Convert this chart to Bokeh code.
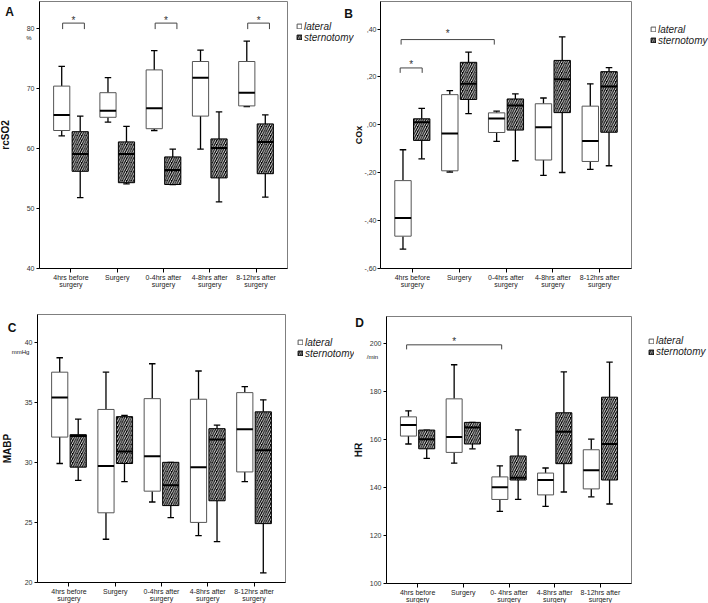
import numpy as np
from bokeh.plotting import figure
from bokeh.layouts import gridplot
from bokeh.models import Range1d, FixedTicker, Label, Legend, LegendItem
from bokeh.core.properties import value
from bokeh.embed import file_html
from bokeh.resources import INLINE

# ---------------- data ----------------
categories = ["4hrs before\nsurgery", "Surgery", "0-4hrs after\nsurgery",
              "4-8hrs after\nsurgery", "8-12hrs after\nsurgery"]
categories_D = ["4hrs before\nsurgery", "Surgery", "0- 4hrs after\nsurgery",
                "4-8hrs after\nsurgery", "8-12hrs after\nsurgery"]
groups = ["lateral", "sternotomy"]

# A: rcSO2 (%)
A_lat_hi = [73.7, 71.8, 76.3, 76.4, 77.9]
A_lat_q3 = [70.4, 69.3, 73.1, 74.5, 74.5]
A_lat_med = [65.6, 66.3, 66.7, 71.8, 69.3]
A_lat_q1 = [63.0, 65.2, 63.3, 65.4, 67.1]
A_lat_lo = [62.1, 64.4, 63.0, 59.9, 67.0]
A_st_hi = [65.4, 63.7, 59.9, 66.1, 65.6]
A_st_q3 = [62.8, 61.1, 58.6, 61.6, 64.1]
A_st_med = [59.1, 59.1, 56.4, 60.1, 61.1]
A_st_q1 = [56.2, 54.3, 54.0, 55.1, 55.8]
A_st_lo = [51.8, 54.1, 54.0, 51.1, 51.9]

# B: COx
B_lat_hi = [-0.104, 0.143, 0.057, 0.112, 0.171]
B_lat_q3 = [-0.233, 0.126, 0.050, 0.088, 0.078]
B_lat_med = [-0.389, -0.036, 0.026, -0.010, -0.068]
B_lat_q1 = [-0.465, -0.192, -0.032, -0.147, -0.153]
B_lat_lo = [-0.519, -0.197, -0.069, -0.211, -0.186]
B_st_hi = [0.069, 0.304, 0.129, 0.367, 0.239]
B_st_q3 = [0.025, 0.261, 0.108, 0.269, 0.222]
B_st_med = [0.011, 0.171, 0.081, 0.190, 0.160]
B_st_q1 = [-0.065, 0.106, -0.022, 0.051, -0.031]
B_st_lo = [-0.142, 0.047, -0.150, -0.199, -0.171]

# C: MABP (mmHg)
C_lat_hi = [38.7, 37.5, 38.2, 37.6, 36.3]
C_lat_q3 = [37.5, 34.4, 35.3, 35.25, 35.8]
C_lat_med = [35.4, 29.7, 30.5, 29.6, 32.75]
C_lat_q1 = [32.1, 25.8, 27.6, 25.0, 29.2]
C_lat_lo = [29.9, 23.6, 26.7, 23.9, 28.4]
C_st_hi = [33.6, 33.9, 30.0, 33.1, 35.2]
C_st_q3 = [32.3, 33.8, 30.0, 32.8, 34.2]
C_st_med = [32.2, 30.9, 28.1, 31.9, 31.0]
C_st_q1 = [29.6, 29.9, 26.4, 26.8, 24.9]
C_st_lo = [28.5, 28.4, 25.4, 23.4, 20.8]

# D: HR (/min)
D_lat_hi = [171.9, 191.1, 149.0, 148.1, 160.1]
D_lat_q3 = [169.4, 176.9, 144.4, 146.0, 155.7]
D_lat_med = [166.0, 161.0, 140.1, 143.1, 147.2]
D_lat_q1 = [161.4, 154.6, 135.0, 136.9, 139.4]
D_lat_lo = [158.1, 150.1, 130.0, 132.1, 136.1]
D_st_hi = [163.9, 167.1, 164.0, 188.1, 192.2]
D_st_q3 = [163.9, 167.1, 153.1, 171.1, 177.6]
D_st_med = [160.1, 165.0, 144.0, 163.2, 158.1]
D_st_q1 = [156.1, 158.1, 143.1, 149.9, 143.1]
D_st_lo = [152.1, 156.1, 135.0, 138.1, 133.1]

# y ticks
A_ticks = [40, 50, 60, 70, 80]
B_ticks = [-0.6, -0.4, -0.2, 0.0, 0.2, 0.4]
B_tick_labels = ["-,60", "-,40", "-,20", ",00", ",20", ",40"]
C_ticks = [20, 25, 30, 35, 40]
D_ticks = [100, 120, 140, 160, 180, 200]

# significance brackets: (cat from, offset, cat to, offset, y top, y leg, star baseline)
A_sig = [(0, -0.18, 0, 0.29, 80.9, 79.9, 81.4),
         (2, -0.18, 2, 0.29, 80.9, 79.9, 81.4),
         (4, -0.18, 4, 0.29, 80.9, 79.9, 81.4)]
B_sig = [(0, -0.24, 2, -0.25, 0.356, 0.335, 0.3805),
         (0, -0.26, 0, 0.21, 0.2375, 0.217, 0.25)]
C_sig = []
D_sig = [(0, -0.24, 2, -0.16, 199.4, 197.5, 200.65)]

FONT = "Liberation Sans"
X_IN = (0.32, 5.68)


def make_panel(ylabel, cats, ticks, tick_labels, yr_in, lat, st, sig,
               fig_box, frame_box, ylab_standoff, ylab_size, tick_standoff, legend_pos):
    fx0, fy0, fx1, fy1 = fig_box          # figure box in page px
    l, t, r, b = frame_box                # plot box in page px
    kx = (X_IN[1] - X_IN[0]) / (r - l)
    ky = (yr_in[1] - yr_in[0]) / (b - t)
    xs0 = X_IN[0] - (l - fx0) * kx
    xs1 = X_IN[1] + (fx1 - r) * kx
    ys0 = yr_in[0] - (fy1 - b) * ky
    ys1 = yr_in[1] + (t - fy0) * ky
    p = figure(width=fx1 - fx0, height=fy1 - fy0,
               x_range=Range1d(xs0, xs1), y_range=Range1d(ys0, ys1),
               output_backend="svg", toolbar_location=None,
               min_border=0, min_border_left=0, min_border_right=0,
               min_border_top=0, min_border_bottom=0)
    p.title.visible = False
    p.background_fill_color = "white"
    p.border_fill_color = "white"
    p.outline_line_color = None
    p.xgrid.visible = False
    p.ygrid.visible = False

    def dx(px):
        return xs0 + (px - fx0) * kx

    def dy(py):
        return ys1 - (py - fy0) * ky

    # plot box (top/right edges grey, left/bottom covered by the axes)
    p.quad(left=[X_IN[0]], right=[X_IN[1]], bottom=[yr_in[0]], top=[yr_in[1]],
           fill_color=None, line_color="#7f7f7f", line_width=1)

    xs = np.arange(1, len(cats) + 1)
    xa = p.xaxis[0]
    xa.fixed_location = yr_in[0]
    xa.bounds = X_IN
    xa.ticker = FixedTicker(ticks=list(xs))
    xa.major_label_overrides = {int(i): c for i, c in zip(xs, cats)}
    xa.minor_tick_line_color = None
    xa.major_tick_in = 0
    xa.major_tick_out = 4
    xa.major_label_standoff = 1
    xa.major_label_text_font = FONT
    xa.major_label_text_font_size = "7px"
    xa.major_label_text_color = "#222222"
    xa.major_label_text_line_height = 1.0
    xa.axis_line_color = "black"
    xa.major_tick_line_color = "black"

    ya = p.yaxis[0]
    ya.fixed_location = X_IN[0]
    ya.bounds = yr_in
    ya.ticker = FixedTicker(ticks=ticks)
    if tick_labels is not None:
        ya.major_label_overrides = {tk: lb for tk, lb in zip(ticks, tick_labels)}
    ya.minor_tick_line_color = None
    ya.major_tick_in = 0
    ya.major_tick_out = 3
    ya.major_label_standoff = tick_standoff
    ya.major_label_text_font = FONT
    ya.major_label_text_font_size = "7px"
    ya.major_label_text_color = "#333333"
    ya.axis_label = ylabel
    ya.axis_label_text_font = FONT
    ya.axis_label_text_font_size = ylab_size
    ya.axis_label_text_font_style = "bold"
    ya.axis_label_text_color = "#111111"
    ya.axis_label_standoff = ylab_standoff
    ya.axis_line_color = "black"
    ya.major_tick_line_color = "black"

    off = 0.2
    bw = 0.35
    cw = 0.14
    rends = []
    for gi, (hi, q3, med, q1, lo) in enumerate([lat, st]):
        x = xs + (-off if gi == 0 else off)
        src = dict(x=x, hi=hi, q3=q3, med=med, q1=q1, lo=lo,
                   xl=x - bw / 2, xr=x + bw / 2, cl=x - cw / 2, cr=x + cw / 2)
        p.segment(x0="x", y0="q3", x1="x", y1="hi", source=src, line_color="black", line_width=1.3)
        p.segment(x0="x", y0="q1", x1="x", y1="lo", source=src, line_color="black", line_width=1.3)
        p.segment(x0="cl", y0="hi", x1="cr", y1="hi", source=src, line_color="black", line_width=1.3)
        p.segment(x0="cl", y0="lo", x1="cr", y1="lo", source=src, line_color="black", line_width=1.3)
        if gi == 0:
            r_ = p.vbar(x="x", width=bw, top="q3", bottom="q1", source=src,
                        fill_color="white", line_color="#555555", line_width=1)
        else:
            r_ = p.vbar(x="x", width=bw, top="q3", bottom="q1", source=src,
                        fill_color="black", line_color="black", line_width=1,
                        hatch_pattern="/", hatch_color="white", hatch_weight=0.9,
                        hatch_scale=4.5)
        rends.append(r_)
        p.segment(x0="xl", y0="med", x1="xr", y1="med", source=src, line_color="black", line_width=2)

    for (c0, o0, c1, o1, ytop, yleg, ystar) in sig:
        xa0, xb0 = xs[c0] + o0, xs[c1] + o1
        p.line(x=[xa0, xa0, xb0, xb0], y=[yleg, ytop, ytop, yleg], line_color="#444444", line_width=1)
        p.text(x=[(xa0 + xb0) / 2], y=[ystar], text=["*"],
               text_font=value(FONT), text_font_size="10px", text_align="center",
               text_baseline="alphabetic", text_color="#333333")

    sq_left, text_c = legend_pos          # left of legend squares, centre of first label
    leg = Legend(items=[LegendItem(label=groups[0], renderers=[rends[0]]),
                        LegendItem(label=groups[1], renderers=[rends[1]])],
                 location=(sq_left - fx0, fy1 - (text_c + 16.8)),
                 glyph_width=6, glyph_height=6, label_height=10, label_width=30,
                 label_standoff=2, spacing=0, padding=0, margin=0,
                 label_text_font=FONT, label_text_font_size="10px",
                 label_text_font_style="italic", label_text_color="#222222",
                 label_text_line_height=1.0,
                 border_line_color=None, background_fill_alpha=0)
    p.add_layout(leg)
    return p, dx, dy


def add_text(p, x, y, text, size, style="normal", align="center", baseline="alphabetic"):
    p.add_layout(Label(x=x, y=y, text=text, text_font=FONT, text_font_size=size,
                       text_font_style=style, text_align=align, text_baseline=baseline,
                       text_color="#111111"))


pA, dxA, dyA = make_panel("rcSO2", categories, A_ticks, None, (40, 84.5),
                          (A_lat_hi, A_lat_q3, A_lat_med, A_lat_q1, A_lat_lo),
                          (A_st_hi, A_st_q3, A_st_med, A_st_q1, A_st_lo), A_sig,
                          (0, 0, 354, 300), (39, 1, 287, 268), 13, "10px", 2, (296, 25.7))
pB, dxB, dyB = make_panel("COx", categories, B_ticks, B_tick_labels, (-0.6, 0.515),
                          (B_lat_hi, B_lat_q3, B_lat_med, B_lat_q1, B_lat_lo),
                          (B_st_hi, B_st_q3, B_st_med, B_st_q1, B_st_lo), B_sig,
                          (354, 0, 708, 300), (380, 1, 631, 268), -3, "9px", 1, (650, 28.8))
pC, dxC, dyC = make_panel("MABP", categories, C_ticks, None, (20, 42.3),
                          (C_lat_hi, C_lat_q3, C_lat_med, C_lat_q1, C_lat_lo),
                          (C_st_hi, C_st_q3, C_st_med, C_st_q1, C_st_lo), C_sig,
                          (0, 300, 354, 603), (37, 314, 285, 582), 9, "10px", 2, (297, 342))
pD, dxD, dyD = make_panel("HR", categories_D, D_ticks, None, (100, 211.2),
                          (D_lat_hi, D_lat_q3, D_lat_med, D_lat_q1, D_lat_lo),
                          (D_st_hi, D_st_q3, D_st_med, D_st_q1, D_st_lo), D_sig,
                          (354, 300, 708, 603), (386, 316, 631, 583), 3, "10px", 2, (648, 340.5))

# panel letters and unit captions
add_text(pA, dxA(9), dyA(11), "A", "12px", "bold")
add_text(pA, dxA(348), dyA(13), "B", "12px", "bold")
add_text(pA, dxA(28.5), dyA(37), "%", "6px", baseline="middle")
add_text(pC, dxC(11.5), dyC(327), "C", "12px", "bold")
add_text(pC, dxC(20), dyC(351), "mmHg", "6px", baseline="middle")
add_text(pD, dxD(359), dyD(322), "D", "12px", "bold")
add_text(pD, dxD(372), dyD(356.5), "/min", "6px", baseline="middle")

grid = gridplot([[pA, pB], [pC, pD]], toolbar_location=None)

open("out.html", "w").write(file_html(grid, INLINE))
